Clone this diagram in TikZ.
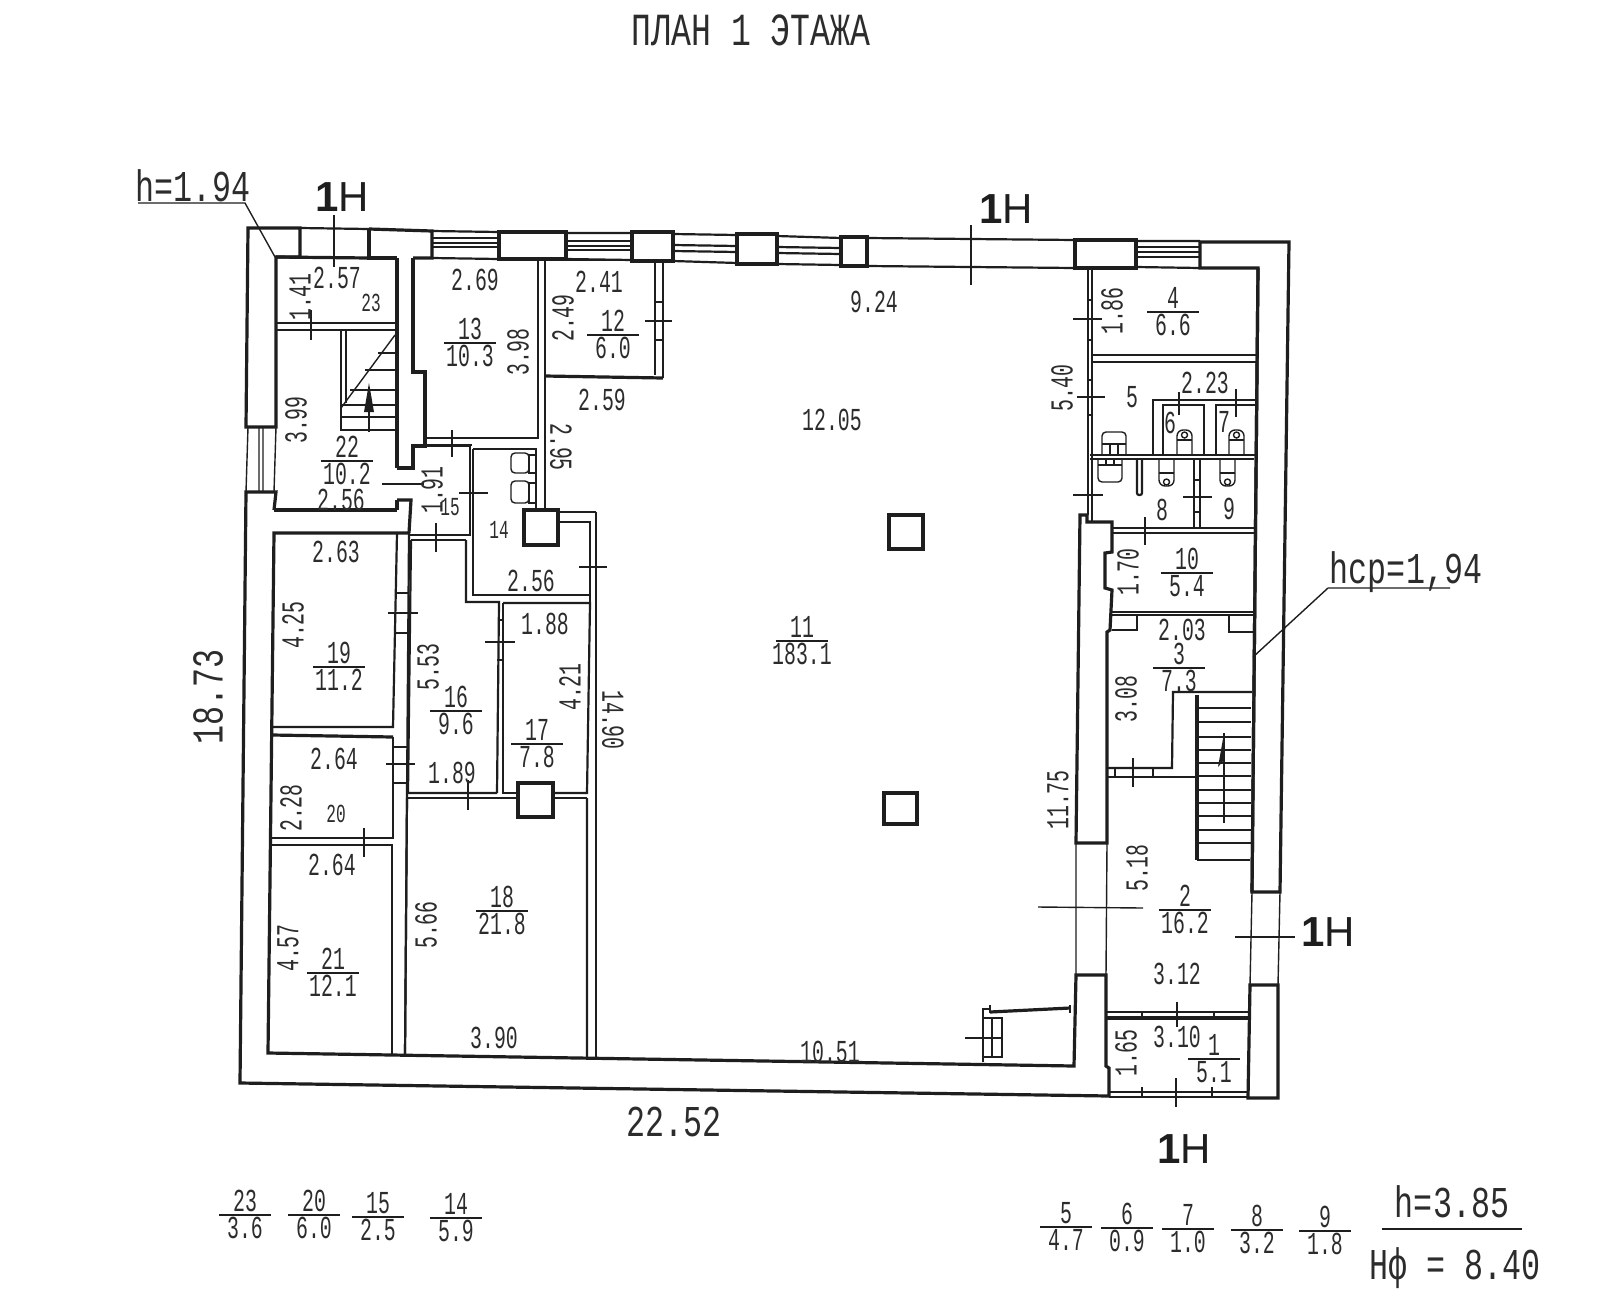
\documentclass[tikz,border=0pt]{standalone}
\usepackage{fontspec}
\setmainfont{Liberation Sans}
\newfontfamily\cad[FakeStretch=0.62]{Liberation Mono}
\newfontfamily\cadbig[FakeStretch=0.72]{Liberation Mono}
\definecolor{ink}{HTML}{1E1E1E}
\definecolor{txt}{HTML}{2C2C2C}
\newcounter{lb}
\tikzset{
 wall/.style={draw=ink,line width=1.6pt,line join=miter},
 mid/.style={draw=ink,line width=1.1pt},
 hair/.style={draw=ink,line width=0.7pt},
 dimt/.style={text=txt,inner sep=0pt,font=\cad\fontsize{16}{16}\selectfont},
 smallt/.style={text=txt,inner sep=0pt,font=\cad\fontsize{13}{13}\selectfont},
 bigt/.style={text=txt,inner sep=0pt,font=\cadbig\fontsize{22}{22}\selectfont},
 titlet/.style={text=txt,inner sep=0pt,font=\cadbig\fontsize{23}{23}\selectfont},
 mark1h/.style={text=ink,inner sep=0pt,font=\fontsize{21}{21}\selectfont},
 pillar/.style={draw=ink,line width=1.8pt,fill=white}
}
\newcommand\dm[4][0]{\stepcounter{lb}\node[dimt,rotate=#1] (lb\arabic{lb}) at (#2,#3) {#4};}
\newcommand\sm[3]{\stepcounter{lb}\node[smallt] (lb\arabic{lb}) at (#1,#2) {#3};}
\newcommand\bg[4][0]{\stepcounter{lb}\node[bigt,rotate=#1] (lb\arabic{lb}) at (#2,#3) {#4};}
\newcommand\oh[2]{\stepcounter{lb}\node[mark1h] (lb\arabic{lb}) at (#1,#2) {{\bfseries 1}H};}
\newcommand\fr[4]{\draw[hair] (#1-26,#2) -- (#1+26,#2);
 \dm{#1}{#2-14}{#3}\dm{#1}{#2+13}{#4}}
\newcommand\tk[4]{\draw[hair] (#1,#2) -- (#3,#4);}
\begin{document}
\begin{tikzpicture}[x=0.5pt,y=-0.5pt]
\useasboundingbox[fill=white] (0,0) rectangle (1600,1312);
% ---- outer walls
\draw[wall] (300,228) -- (248,228) -- (246,427) -- (276,427) -- (276,257) -- (300,257) -- cycle;
\draw[mid] (300,228) -- (369,229);
\draw[wall] (369,229) -- (432,231) -- (432,258) -- (413,258);
\draw[wall] (369,229) -- (369,258) -- (397,258);
\draw[wall] (276,257) -- (369,258);
% windows and piers on top
\draw[hair] (432,238) -- (499,238) (432,243) -- (499,243) (432,247) -- (499,247);
\draw[mid] (432,231) -- (499,232) (432,258) -- (499,259);
\draw[wall] (499,232) rectangle (566,259);
\draw[hair] (566,241) -- (632,241) (566,246) -- (632,246) (566,250) -- (632,250);
\draw[mid] (566,233) -- (632,233) (566,259) -- (632,260);
\draw[wall] (632,232) rectangle (673,261);
\draw[mid] (673,245) -- (737,246) (673,251) -- (737,252);
\draw[mid] (673,234) -- (737,235) (673,261) -- (737,263);
\draw[wall] (737,234) rectangle (777,264);
\draw[mid] (777,247) -- (841,248) (777,253) -- (841,254);
\draw[mid] (777,236) -- (841,238) (777,264) -- (841,265);
\draw[wall] (841,237) rectangle (867,266);
\draw[mid] (867,238) -- (1075,240) (867,266) -- (1075,268);
\draw[wall] (1075,240) rectangle (1136,268);
\draw[hair] (1136,247) -- (1200,247) (1136,252) -- (1200,252) (1136,257) -- (1200,257);
\draw[mid] (1136,241) -- (1200,241) (1136,267) -- (1200,268);
\draw[wall] (1200,242) -- (1289,242) -- (1280,892) -- (1252,892) -- (1258,268) -- (1200,268) -- cycle;
% left window
\draw[hair] (248,427) -- (246,492) (276,427) -- (274,492) (259,427) -- (259,492) (263,427) -- (263,492);
% left lower wall and bottom
\draw[wall] (274,510) -- (276,492) -- (246,492) -- (240,1083) -- (1109,1096) -- (1109,1068) -- (1106,1066) -- (1106,975) -- (1076,975) -- (1074,1066) -- (268,1053) -- (274,533) -- (409,533);
\draw[wall] (274,510) -- (397,510);
% right side
\draw[wall] (1250,985) -- (1278,985) -- (1278,1098) -- (1248,1098) -- cycle;
\draw[hair] (1280,892) -- (1278,985) (1252,892) -- (1250,985);
% room 22/23
\draw[wall] (397,258) -- (397,468);
\draw[wall] (397,500) -- (397,510);
\draw[mid] (276,323) -- (397,323) (276,330) -- (397,330);
\draw[mid] (341,330) -- (341,430) -- (397,430) (346,330) -- (346,403);
\draw[hair] (395,335) -- (341,408);
\foreach \yy/\xx in {353/378,370/365,390/350,405/341,417/341} {\draw[hair] (\xx,\yy) -- (397,\yy);}
\draw[hair] (369,432) -- (369,387);
\fill[ink] (369,383) -- (364,412) -- (374,412) -- cycle;
% wall between 22 and 13
\draw[wall] (413,258) -- (413,372) -- (425,372) -- (425,446) -- (413,446) -- (413,468) -- (397,468);
\draw[wall] (397,500) -- (411,500) -- (409,533);
% room 13
\draw[mid] (538,258) -- (538,438) -- (425,438);
\draw[mid] (545,260) -- (545,510);
\draw[hair] (427,445) -- (472,445);
% room 12
\draw[mid] (545,260) -- (655,260);
\draw[mid] (655,260) -- (655,375) (663,260) -- (663,378);
\draw[wall] (545,376) -- (663,378);
\draw[hair] (655,302) -- (663,302) (655,340) -- (663,340);
% room 15
\draw[mid] (413,446) -- (470,446) -- (470,535) -- (409,535);
\draw[hair] (411,540) -- (466,540);
% room 14
\draw[mid] (473,449) -- (536,449) -- (536,510);
\draw[mid] (473,449) -- (473,595) -- (590,595) -- (590,522) -- (557,522);
\draw[mid] (557,512) -- (596,512);
\draw[mid] (596,512) -- (596,1058) (590,595) -- (590,603);
\draw[hair,rounded corners=2pt] (511,453) rectangle (529,473) (511,481) rectangle (529,503);
\draw[hair] (529,455) rectangle (536,473) (529,483) rectangle (536,503);
\draw[pillar] (524,510) rectangle (558,545);
% room 16/17
\draw[mid] (466,540) -- (466,602) -- (499,602) -- (497,793);
\draw[mid] (411,540) -- (408,793) -- (497,793);
\draw[mid] (503,603) -- (590,603) -- (587,793) -- (553,793);
\draw[mid] (503,603) -- (503,793) -- (518,793);
\draw[hair] (499,620) -- (503,620) (497,660) -- (503,660);
\draw[mid] (407,798) -- (518,798) (553,798) -- (587,798);
\draw[mid] (407,798) -- (405,1056) (587,798) -- (587,1058);
\draw[pillar] (518,783) rectangle (553,817);
% rooms 19/20/21
\draw[mid] (397,533) -- (393,727) -- (272,727);
\draw[wall] (272,735) -- (393,737);
\draw[mid] (393,737) -- (393,838) -- (272,838);
\draw[mid] (271,845) -- (392,845) -- (392,1054);
\draw[mid] (409,533) -- (405,1056);
\draw[hair] (397,593) -- (409,593) (396,633) -- (408,633) (393,747) -- (407,747) (393,783) -- (406,783);
% right block rooms
\draw[mid] (1088,268) -- (1088,515) (1092,268) -- (1092,522);
\draw[hair] (1088,300) -- (1092,300) (1088,340) -- (1092,340) (1088,380) -- (1092,380) (1088,415) -- (1092,415);
\draw[mid] (1092,355) -- (1256,355) (1092,362) -- (1256,362);
\draw[mid] (1153,455) -- (1153,400) -- (1255,400);
\draw[mid] (1163,455) -- (1163,405) -- (1204,405) -- (1204,455);
\draw[mid] (1216,455) -- (1216,405) -- (1255,405);
\draw[mid] (1090,455) -- (1255,455);
\draw[mid] (1090,459) -- (1254,459);
\draw[mid] (1194,459) -- (1194,528) (1200,459) -- (1200,528);
\draw[mid,rounded corners=1pt] (1137,459) -- (1137,495) -- (1142,495) -- (1142,459);
\draw[mid] (1112,528) -- (1254,528);
\draw[mid] (1112,533) -- (1254,533);
\draw[hair] (1194,480) -- (1200,480) (1194,512) -- (1200,512);
% fixtures
\foreach \xa in {1177,1229} {
 \draw[hair,rounded corners=3pt] (\xa,455) -- (\xa,430) -- (\xa+15,430) -- (\xa+15,455);
 \draw[hair] (\xa,440) -- (\xa+15,440);
 \draw[hair] (\xa+7.5,435) circle (3);}
\foreach \xa in {1159,1220} {
 \draw[hair,rounded corners=3pt] (\xa,459) -- (\xa,486) -- (\xa+15,486) -- (\xa+15,459);
 \draw[hair] (\xa,473) -- (\xa+15,473);
 \draw[hair] (\xa+7.5,482) circle (3);}
\draw[hair,rounded corners=2pt] (1102,455) -- (1102,432) -- (1126,432) -- (1126,455);
\draw[hair] (1102,444) -- (1126,444) (1110,444) -- (1110,455) (1118,444) -- (1118,455);
\draw[hair,rounded corners=2pt] (1098,459) -- (1098,482) -- (1122,482) -- (1122,459);
\draw[hair] (1098,465) -- (1122,465) (1106,459) -- (1106,465) (1114,459) -- (1114,465);
% thick wall right of hall
\draw[wall] (1076,843) -- (1080,515) -- (1087,515) -- (1087,522) -- (1112,522) -- (1112,552) -- (1105,553) -- (1105,588) -- (1112,590) -- (1110,630) -- (1107,632) -- (1107,843) -- cycle;
\draw[hair] (1076,843) -- (1076,975) (1107,843) -- (1106,975);
% room 10 and 3
\draw[mid] (1112,612) -- (1253,612) (1112,615) -- (1253,615);
\draw[mid] (1112,630) -- (1137,630) -- (1137,615) (1229,615) -- (1229,632) -- (1253,632);
\draw[wall] (1258,268) -- (1252,892);
\draw[mid] (1107,768) -- (1172,768) -- (1173,692) -- (1252,692);
\draw[mid] (1107,777) -- (1197,777);
\draw[hair] (1115,768) -- (1115,777) (1153,768) -- (1153,777);
% main stairs
\draw[wall] (1197,695) -- (1197,860);
\draw[mid] (1197,860) -- (1250,860);
\foreach \yy in {708,722,737,750,763,776,790,803,816,830,843} {\draw[hair] (1197,\yy) -- (1251,\yy);}
\draw[mid] (1224,823) -- (1224,733);
\fill[ink] (1224,733) -- (1218,767) -- (1224,760) -- cycle;
% room 1
\draw[mid] (1106,1012) -- (1248,1012);
\draw[wall] (1106,1018) -- (1248,1018);
\draw[mid] (1109,1092) -- (1248,1092) (1109,1097) -- (1248,1097);
\draw[hair] (1142,1012) -- (1142,1018) (1214,1012) -- (1214,1018) (1142,1087) -- (1142,1097) (1212,1087) -- (1212,1097);
% fixture at hall bottom
\draw[mid] (983,1062) -- (983,1009) -- (990,1009);
\draw[hair] (990,1005) -- (990,1013);
\draw[mid] (983,1018) -- (1002,1018) -- (1002,1057) -- (983,1057);
\draw[hair] (992,1018) -- (992,1057) (983,1038) -- (1002,1038);
\draw[wall] (990,1012) -- (1070,1008);
\draw[hair] (1070,1005) -- (1070,1013);
% hall pillars
\draw[pillar] (889,515) rectangle (923,549);
\draw[pillar] (884,793) rectangle (917,824);
% leaders and ticks
\draw[hair] (138,203) -- (245,203) -- (275,257);
\draw[hair] (1328,588) -- (1450,588) (1328,588) -- (1253,657);
\tk{334}{215}{334}{267}
\tk{971}{225}{971}{285}
\tk{311}{310}{311}{340}
\tk{645}{321}{672}{321}
\tk{382}{484}{424}{484}
\tk{459}{493}{488}{493}
\tk{579}{567}{607}{567}
\tk{436}{523}{436}{552}
\tk{452}{430}{452}{457}
\tk{388}{613}{418}{613}
\tk{485}{642}{515}{642}
\tk{386}{764}{415}{764}
\tk{468}{780}{468}{810}
\tk{364}{828}{364}{857}
\tk{1073}{319}{1102}{319}
\tk{1077}{397}{1105}{397}
\tk{1179}{392}{1179}{415}
\tk{1236}{389}{1236}{417}
\tk{1073}{495}{1103}{495}
\tk{1183}{497}{1212}{497}
\tk{1145}{517}{1145}{545}
\tk{1133}{758}{1133}{787}
\tk{1038}{907}{1143}{908}
\tk{1235}{937}{1295}{937}
\tk{1177}{1002}{1177}{1027}
\tk{1176}{1078}{1176}{1107}
\tk{965}{1038}{983}{1038}
% ---- texts
\stepcounter{lb}\node[titlet] (lb\arabic{lb}) at (751,30) {ПЛАН 1 ЭТАЖА};
\bg{193}{186}{h=1.94}
\oh{342}{197}
\oh{1006}{209}
\oh{1328}{932}
\oh{1184}{1149}
\bg{1406}{572}{hcp=1,94}
\bg[90]{208}{697}{18.73}
\bg{674}{1122}{22.52}
\dm{337}{278}{2.57}
\dm[90]{300}{297}{1.41}
\sm{371}{303}{23}
\dm{475}{280}{2.69}
\fr{470}{343}{13}{10.3}
\dm[90]{518}{352}{3.98}
\dm{599}{282}{2.41}
\dm[90]{563}{318}{2.49}
\fr{613}{335}{12}{6.0}
\dm{602}{400}{2.59}
\dm[-90]{561}{447}{2.95}
\dm[90]{296}{420}{3.99}
\fr{347}{461}{22}{10.2}
\dm{341}{500}{2.56}
\dm[90]{432}{490}{1.91}
\sm{450}{507}{15}
\sm{499}{530}{14}
\dm{531}{581}{2.56}
\dm{336}{552}{2.63}
\dm[90]{293}{625}{4.25}
\dm{545}{624}{1.88}
\fr{339}{667}{19}{11.2}
\fr{456}{711}{16}{9.6}
\dm[90]{428}{667}{5.53}
\dm[90]{570}{687}{4.21}
\fr{537}{744}{17}{7.8}
\dm[-90]{613}{720}{14.90}
\dm{334}{759}{2.64}
\dm{452}{773}{1.89}
\dm[90]{291}{808}{2.28}
\sm{336}{814}{20}
\dm{332}{865}{2.64}
\fr{502}{911}{18}{21.8}
\dm[90]{426}{925}{5.66}
\dm[90]{288}{948}{4.57}
\fr{333}{973}{21}{12.1}
\dm{494}{1038}{3.90}
\dm{830}{1052}{10.51}
\dm{874}{302}{9.24}
\dm{832}{420}{12.05}
\fr{802}{641}{11}{183.1}
\dm[90]{1112}{311}{1.86}
\fr{1173}{312}{4}{6.6}
\dm[90]{1062}{388}{5.40}
\dm{1132}{397}{5}
\dm{1205}{383}{2.23}
\dm{1170}{423}{6}
\dm{1224}{422}{7}
\dm{1162}{510}{8}
\dm{1229}{509}{9}
\dm[90]{1128}{572}{1.70}
\fr{1187}{573}{10}{5.4}
\dm{1182}{630}{2.03}
\fr{1179}{668}{3}{7.3}
\dm[90]{1126}{699}{3.08}
\dm[90]{1058}{800}{11.75}
\dm[90]{1137}{868}{5.18}
\fr{1185}{910}{2}{16.2}
\dm{1177}{974}{3.12}
\dm{1177}{1037}{3.10}
\fr{1214}{1059}{1}{5.1}
\dm[90]{1126}{1053}{1.65}
% legends
\fr{245}{1215}{23}{3.6}
\fr{314}{1215}{20}{6.0}
\fr{378}{1217}{15}{2.5}
\fr{456}{1218}{14}{5.9}
\fr{1066}{1227}{5}{4.7}
\fr{1127}{1228}{6}{0.9}
\fr{1188}{1229}{7}{1.0}
\fr{1257}{1230}{8}{3.2}
\fr{1325}{1231}{9}{1.8}
\bg{1452}{1202}{h=3.85}
\draw[hair] (1382,1229) -- (1522,1229);
\bg{1455}{1268}{Нф = 8.40}
\end{tikzpicture}
\end{document}
